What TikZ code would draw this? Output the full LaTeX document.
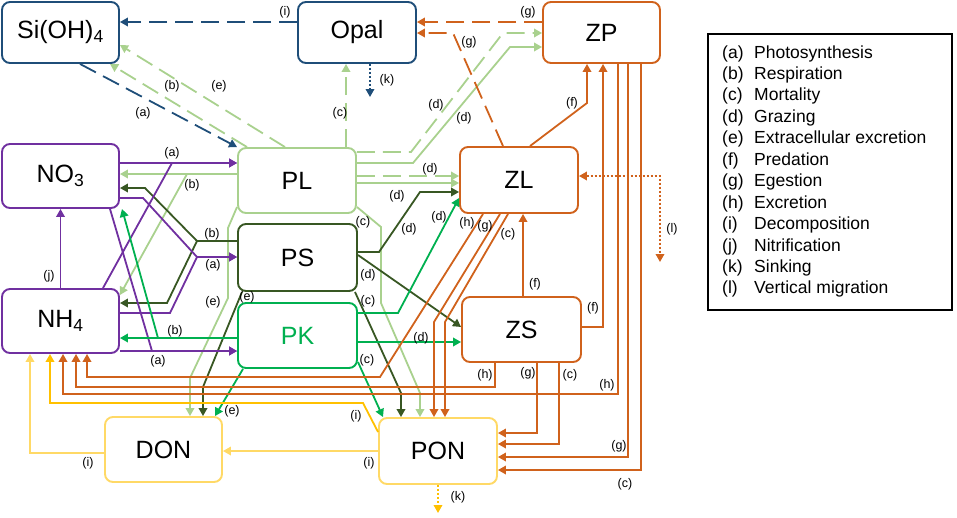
\documentclass[tikz,border=0pt]{standalone}
\usepackage{fontspec}
\setmainfont{Liberation Sans}
\usetikzlibrary{arrows.meta}

\definecolor{navy}{RGB}{31,78,121}
\definecolor{lgreen}{RGB}{169,209,142}
\definecolor{dgreen}{RGB}{56,87,35}
\definecolor{mgreen}{RGB}{0,176,80}
\definecolor{purp}{RGB}{112,48,160}
\definecolor{orng}{RGB}{208,98,28}
\definecolor{lyell}{RGB}{255,217,102}
\definecolor{gold}{RGB}{255,192,0}

\begin{document}
\begin{tikzpicture}[x=1pt,y=-1pt,
    >={Triangle[length=8pt,width=8.5pt]},
    box/.style={draw, fill=white, rounded corners=8pt, line width=1.9pt,
      minimum width=118pt, minimum height=65pt, inner sep=0pt,
      font=\fontsize{25}{30}\selectfont},
    flow/.style={line width=1.8pt, ->},
    dsh/.style={dash pattern=on 18pt off 8pt},
    dots/.style={dash pattern=on 2pt off 2pt},
    lab/.style={inner sep=0pt, font=\fontsize{12.5}{14}\selectfont},
    legtxt/.style={inner sep=0pt, font=\fontsize{17.5}{20}\selectfont}]
\useasboundingbox (0,0) rectangle (957,517);

% Compartments
\node[box, draw=navy, minimum width=117pt, minimum height=61pt] (si) at (60.5,32.5) {Si(OH)\textsubscript{4}};
\node[box, draw=navy, minimum height=61pt] (opal) at (357,32.5) {Opal};
\node[box, draw=orng, minimum width=117pt, minimum height=61pt] (zp) at (601.5,32.5) {ZP};
\node[box, draw=purp, minimum width=117pt, minimum height=64pt] (no3) at (60.5,176) {NO\textsubscript{3}};
\node[box, draw=purp, minimum width=117pt, minimum height=64pt] (nh4) at (60.5,321) {NH\textsubscript{4}};
\node[box, draw=lgreen] (pl) at (297,180.5) {PL};
\node[box, draw=dgreen, minimum width=119pt, minimum height=67pt] (ps) at (297.5,257.5) {PS};
\node[box, draw=mgreen, text=mgreen, minimum width=119pt] (pk) at (297.5,335.5) {PK};
\node[box, draw=orng, minimum height=66pt] (zl) at (519,180) {ZL};
\node[box, draw=orng, minimum width=119pt] (zs) at (521.5,329.5) {ZS};
\node[box, draw=lyell, minimum width=117pt] (don) at (163.5,449.5) {DON};
\node[box, draw=lyell, minimum height=66pt] (pon) at (438,451) {PON};

% Silicon
\draw[flow, navy, dsh] (opal.west |- 0,22) -- (si.east |- 0,22);
\draw[flow, navy, dsh] (si.south -| 80,0) -- (pl.north west);
\draw[flow, navy, dots] (opal.south -| 370,0) -- (370,97) coordinate (opalsink);

% PL
\draw[flow, lgreen, dsh] (pl.north -| 247,0) -- (si.south -| 110,0);
\draw[flow, lgreen, dsh] (pl.north -| 285,0) -- (si.east |- 0,45);
\draw[flow, lgreen, dsh] (pl.north -| 346,0) -- (opal.south -| 346,0);
\draw[flow, lgreen, dsh] (pl.east |- 0,152) -- (411,152) -- (503,33) -- (zp.west |- 0,33);
\draw[flow, lgreen] (pl.east |- 0,163) -- (413,163) -- (510,47) -- (zp.west |- 0,47);
\draw[flow, lgreen, dsh] (pl.east |- 0,176) -- (zl.west |- 0,176);
\draw[flow, lgreen] (pl.east |- 0,183) -- (zl.west |- 0,183);
\draw[flow, lgreen] (pl.west |- 0,174) -- (no3.east |- 0,174);
\draw[flow, lgreen] (pl.west |- 0,174) -- (187,174) -- (nh4.east |- 0,295);
\draw[flow, lgreen] (pl.west |- 0,207) -- (228,228) -- (228,298) -- (190,378) -- (don.north -| 190,0);
\draw[flow, lgreen] (pl.east |- 0,207) -- (381,227) -- (381,303) -- (420,393) -- (pon.north -| 420,0);

% PS
\draw[flow, dgreen] (ps.west |- 0,241) -- (197,241) -- (145,188) -- (no3.east |- 0,188);
\draw[flow, dgreen] (ps.west |- 0,241) -- (197,241) -- (167,303) -- (nh4.east |- 0,303);
\draw[flow, dgreen] (ps.east |- 0,252) -- (379,252) -- (420,192) -- (zl.west |- 0,192);
\draw[flow, dgreen] (ps.east |- 0,255) -- (zs.west |- 0,327);
\draw[flow, dgreen] (ps.south -| 355,0) -- (401,393) -- (pon.north -| 401,0);
\draw[flow, dgreen] (ps.south -| 242,0) -- (203,387) -- (don.north -| 203,0);

% Nutrients
\draw[flow, purp] (no3.east |- 0,163) -- (pl.west |- 0,163);
\draw[flow, purp] (nh4.north -| 103,0) -- (172,163) -- (pl.west |- 0,163);
\draw[flow, purp] (no3.east |- 0,198) -- (143,198) -- (197,257) -- (ps.west |- 0,257);
\draw[flow, purp] (nh4.east |- 0,313) -- (170,313) -- (197,257) -- (ps.west |- 0,257);
\draw[flow, purp] (no3.south -| 110,0) -- (152,351) -- (pk.west |- 0,351);
\draw[flow, purp] (nh4.east |- 0,351) -- (pk.west |- 0,351);
\draw[flow, purp] (nh4.north) -- (no3.south);

% PK
\draw[flow, mgreen] (pk.west |- 0,338) -- (nh4.east |- 0,338);
\draw[flow, mgreen] (pk.west |- 0,338) -- (158,338) -- (no3.south -| 122,0);
\draw[flow, mgreen] (pk.east |- 0,313) -- (398,313) -- (zl.west |- 0,198);
\draw[flow, mgreen] (pk.east |- 0,342) -- (zs.west |- 0,342);
\draw[flow, mgreen] (pk.east |- 0,362) -- (pon.north -| 383,0);
\draw[flow, mgreen] (pk.south -| 243,0) -- (don.north -| 215,0);

% Zooplankton
\draw[flow, orng] (zl.north -| 530,0) -- (587,103) -- (zp.south -| 587,0);
\draw[flow, orng, dsh] (zl.north -| 503,0) -- (453,33) -- (opal.east |- 0,33);
\draw[flow, orng, dsh] (zp.west |- 0,22) -- (opal.east |- 0,22);
\draw[flow, orng] (zs.north -| 523,0) -- (zl.south -| 523,0);
\draw[flow, orng] (zs.east |- 0,327) -- (603,327) -- (zp.south -| 603,0);
\draw[line width=1.8pt, orng, dots, <->] (zl.east |- 0,176) -| (660,262) coordinate (zlmig);
\draw[flow, orng] (zl.south -| 483,0) -- (380,377) -- (87,377) -- (nh4.south -| 87,0);
\draw[flow, orng] (zl.south -| 500,0) -- (434,322) -- (pon.north -| 434,0);
\draw[flow, orng] (zl.south -| 508,0) -- (445,322) -- (pon.north -| 445,0);
\draw[flow, orng] (zs.south -| 495,0) -- (495,387) -- (76,387) -- (nh4.south -| 76,0);
\draw[flow, orng] (zs.south -| 537,0) -- (537,433) -- (pon.east |- 0,433);
\draw[flow, orng] (zs.south -| 559,0) -- (559,444) -- (pon.east |- 0,444);
\draw[flow, orng] (zp.south -| 618,0) -- (618,394) -- (63,394) -- (nh4.south -| 63,0);
\draw[flow, orng] (zp.south -| 628,0) -- (628,457) -- (pon.east |- 0,457);
\draw[flow, orng] (zp.south -| 641,0) -- (641,470) -- (pon.east |- 0,470);

% Detritus
\draw[flow, lyell] (pon.west |- 0,451) -- (don.east |- 0,451);
\draw[flow, gold] (pon.west |- 0,432) -- (363,403) -- (50,403) -- (nh4.south -| 50,0);
\draw[flow, lyell] (don.west |- 0,453) -- (30,453) -- (nh4.south -| 30,0);
\draw[flow, gold, dots] (pon.south) -- (438,513) coordinate (ponsink);

% Process labels
\foreach \x/\y/\t [count=\n] in {285/12/i, 143/113/a, 172/86/b, 219/86/e, 340/113/c,
    387/80/k, 528/12/g, 469/42/g, 436/105/d, 464/118/d, 572/103/f, 172/153/a,
    192/185/b, 430/169/d, 397/196/d, 409/229/d, 439/217/d, 363/222/c, 467/223/h,
    485/226/g, 508/234/c, 672/229/l, 212/234/b, 213/265/a, 49/276/j, 213/302/e,
    247/297/e, 368/301/c, 368/275/d, 535/284/f, 593/308/f, 175/331/b, 421/338/d,
    158/361/a, 367/360/c, 485/375/h, 528/373/g, 570/375/c, 607/385/h, 232/411/e,
    356/416/i, 619/446/g, 88/463/i, 369/463/i, 625/484/c, 458/497/k}
  \node[lab] (lb\n) at (\x,\y) {(\t)};

% Legend
\node[draw, line width=1.2pt, minimum width=244pt, minimum height=276pt, inner sep=0pt] (legend) at (830,172) {};
\foreach \k/\t [count=\n from 0] in {a/Photosynthesis, b/Respiration, c/Mortality,
    d/Grazing, e/Extracellular excretion, f/Predation, g/Egestion, h/Excretion,
    i/Decomposition, j/Nitrification, k/Sinking, l/Vertical migration} {
  \node[legtxt, anchor=base west] (key\k) at (722,58+21.45*\n) {(\k)};
  \node[legtxt, anchor=base west] (txt\k) at (754,58+21.45*\n) {\t};
}
\end{tikzpicture}
\end{document}
